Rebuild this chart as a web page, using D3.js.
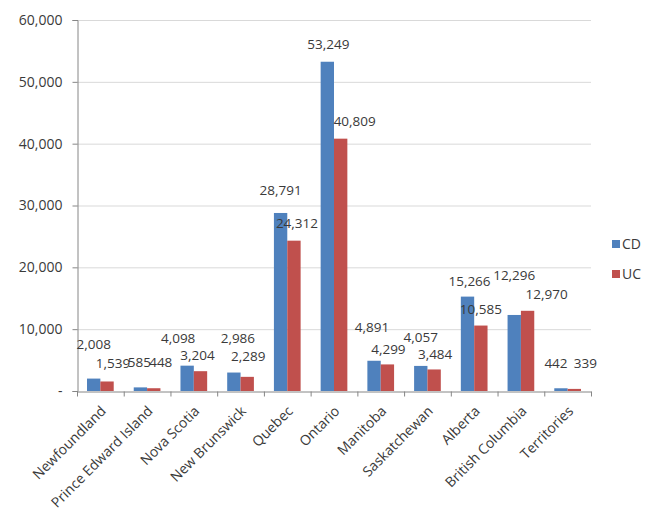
<!DOCTYPE html>
<html>
<head>
<meta charset="utf-8">
<script src="https://cdn.jsdelivr.net/npm/d3@7"></script>
<style>
  html, body { margin: 0; padding: 0; background: #fff; }
  svg { display: block; }
  text { font-family: "Open Sans", sans-serif; fill: #3a3a3a; }
</style>
</head>
<body>
<svg id="chart" width="654" height="512"></svg>
<script>
// ---- data ----
const categories = ["Newfoundland", "Prince Edward Island", "Nova Scotia", "New Brunswick",
  "Quebec", "Ontario", "Manitoba", "Saskatchewan", "Alberta", "British Columbia", "Territories"];
const seriesNames = ["CD", "UC"];
const cdValues = [2008, 585, 4098, 2986, 28791, 53249, 4891, 4057, 15266, 12296, 442];
const ucValues = [1539, 448, 3204, 2289, 24312, 40809, 4299, 3484, 10585, 12970, 339];
const yTicks = [0, 10000, 20000, 30000, 40000, 50000, 60000];
const yTickLabels = ["-", "10,000", "20,000", "30,000", "40,000", "50,000", "60,000"];

// ---- label nudges (layout only, px: label centre relative to bar top/centre) ----
const cdLabelNudge = [[0,-34],[-1,-25],[-9,-27],[4,-34],[0,-23],[1,-17],[-2,-33],[0,-29],[2,-15],[0,-40],[-5,-25]];
const ucLabelNudge = [[6,-18],[7,-26],[-3,-16],[1,-21],[3,-17],[14,-17],[1,-15],[1,-15],[0,-16],[19,-17],[11,-26]];

const colors = ["#4F81BD", "#C0504D"];
const fmt = d3.format(",");

const svg = d3.select("#chart");
const margin = { left: 77, top: 20, right: 63, bottom: 121 };
const W = 654, H = 512;
const x0 = margin.left, x1 = W - margin.right; // 77..591
const yTop = margin.top, yBot = H - margin.bottom; // 20..391

const x = d3.scaleBand().domain(categories).range([x0, x1]).paddingInner(0).paddingOuter(0);
const sub = d3.scaleBand().domain(seriesNames).range([0, x.bandwidth()]).paddingInner(0).paddingOuter(0.75);
const y = d3.scaleLinear().domain([0, 60000]).range([yBot, yTop]);

// gridlines
svg.append("g").selectAll("line").data(yTicks.filter(d => d > 0)).join("line")
  .attr("x1", x0).attr("x2", x1)
  .attr("y1", d => y(d) + 0.5).attr("y2", d => y(d) + 0.5)
  .attr("stroke", "#D9D9D9").attr("stroke-width", 1);

// y axis
const yAxis = d3.axisLeft(y).tickValues(yTicks).tickSize(5).tickPadding(10)
  .tickFormat((d, i) => yTickLabels[i]);
const gy = svg.append("g").attr("transform", `translate(${x0 + 0.5},0)`).call(yAxis);
gy.select(".domain").attr("stroke", "#868686");
gy.selectAll(".tick line").attr("stroke", "#868686");
gy.selectAll(".tick text").style("font-size", "14px").style("font-family", "'Open Sans', sans-serif").attr("fill", "#3a3a3a");

// bars
const series = [cdValues, ucValues];
const barG = svg.append("g");
series.forEach((vals, s) => {
  barG.selectAll(null).data(vals).join("rect")
    .attr("x", (d, i) => x(categories[i]) + sub(seriesNames[s]))
    .attr("width", sub.bandwidth())
    .attr("y", d => y(d))
    .attr("height", d => y(0) - y(d))
    .attr("fill", colors[s]);
});

// x axis
const xAxis = d3.axisBottom(x).tickSize(0).tickFormat("");
const gx = svg.append("g").attr("transform", `translate(0,${yBot + 0.5})`).call(xAxis);
gx.select(".domain").attr("stroke", "#868686");
// tick marks at category boundaries
const bounds = categories.map(c => x(c)).concat([x1]);
gx.selectAll(".bnd").data(bounds).join("line").attr("class", "bnd")
  .attr("x1", d => d + 0.5).attr("x2", d => d + 0.5).attr("y1", 0).attr("y2", 5)
  .attr("stroke", "#868686");
// rotated category labels
gx.selectAll(".lbl").data(categories).join("text").attr("class", "lbl")
  .attr("transform", d => `translate(${x(d) + x.bandwidth() / 2 + 3},${17}) rotate(-45)`)
  .attr("text-anchor", "end")
  .attr("dy", "0.35em")
  .style("font-size", "14px")
  .text(d => d);

// data labels
const nudges = [cdLabelNudge, ucLabelNudge];
series.forEach((vals, s) => {
  svg.append("g").selectAll("text").data(vals).join("text")
    .attr("x", (d, i) => x(categories[i]) + sub(seriesNames[s]) + sub.bandwidth() / 2 + nudges[s][i][0])
    .attr("y", (d, i) => y(d) + nudges[s][i][1])
    .attr("dy", "0.35em")
    .attr("text-anchor", "middle")
    .style("font-size", "13.5px")
    .text(d => fmt(d));
});

// legend
const legend = svg.append("g");
seriesNames.forEach((n, i) => {
  const ly = 244 + i * 30;
  legend.append("rect").attr("x", 612).attr("y", ly - 4).attr("width", 8).attr("height", 8).attr("fill", colors[i]);
  legend.append("text").attr("x", 622).attr("y", ly).attr("dy", "0.35em")
    .style("font-size", "14px").text(n);
});
</script>
</body>
</html>
